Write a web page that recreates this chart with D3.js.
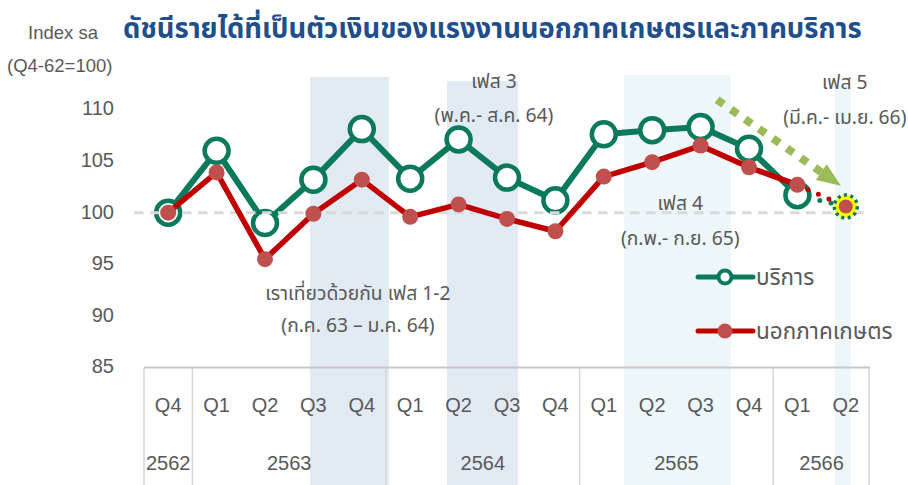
<!DOCTYPE html>
<meta charset="utf-8">
<style>
  body {
    margin: 0;
    background-color: #ffffff;
  }

  text {
    font-family: "Liberation Sans", Arial, sans-serif;
    fill: #595959;
  }

  .thai {
    font-family: "Noto Sans Thai", "Noto Sans Thai Looped", "Noto Sans", sans-serif;
  }

  .axis path,
  .axis line {
    display: none;
  }
</style>
<svg width="908" height="485"></svg>
<script src="https://d3js.org/d3.v7.min.js"></script>

<script>
  // data
  var quarters = ["Q4", "Q1", "Q2", "Q3", "Q4", "Q1", "Q2", "Q3", "Q4", "Q1", "Q2", "Q3", "Q4", "Q1", "Q2"];
  var years = ["2562", "2563", "2563", "2563", "2563", "2564", "2564", "2564", "2564",
    "2565", "2565", "2565", "2565", "2566", "2566"];
  var services = [100, 106.0, 99.0, 103.2, 108.1, 103.3, 107.1, 103.4, 101.2, 107.6, 108.0, 108.3, 106.2, 101.7, 100.6];
  var nonAgri = [100, 103.9, 95.5, 99.9, 103.2, 99.6, 100.8, 99.4, 98.2, 103.5, 104.9, 106.5, 104.4, 102.7, 100.6];
  var yTicks = [85, 90, 95, 100, 105, 110];
  var baseValue = 100;

  // phase shading, in quarter-index units
  var phaseStart = [2.93, 5.76, 9.42, 13.78];
  var phaseEnd = [4.56, 7.23, 11.63, 14.11];

  var titleText = "ดัชนีรายได้ที่เป็นตัวเงินของแรงงานนอกภาคเกษตรและภาคบริการ";
  var seriesNames = ["บริการ", "นอกภาคเกษตร"];

  var svg = d3.select("svg");
  var n = quarters.length;

  var x = d3.scaleBand().domain(d3.range(n)).range([144, 870]);
  var xi = d3.scaleLinear().domain([0, n - 1])
    .range([x(0) + x.bandwidth() / 2, x(n - 1) + x.bandwidth() / 2]);
  var y = d3.scaleLinear().domain([85, 110]).range([367.5, 109.5]);

  var green = "#0b7a5c", red = "#c00000", redDot = "#c0504d";

  // phase bands
  var bandTop = [77, 81, 75, 86];
  var bandFill = ["#e2eaf4", "#e2eaf4", "#edf6f9", "#edf6f9"];
  svg.append("g").selectAll("rect")
    .data(phaseStart)
    .enter().append("rect")
    .attr("x", function (d) { return xi(d); })
    .attr("y", function (d, i) { return bandTop[i]; })
    .attr("width", function (d, i) { return xi(phaseEnd[i]) - xi(d); })
    .attr("height", function (d, i) { return 485 - bandTop[i]; })
    .attr("fill", function (d, i) { return bandFill[i]; });

  // category table under the plot
  var table = svg.append("g");
  var groups = d3.groups(d3.range(n), function (i) { return years[i]; });
  var bounds = [0].concat(groups.map(function (g) { return g[1][g[1].length - 1] + 1; }));
  table.selectAll("line.v")
    .data(bounds)
    .enter().append("line")
    .attr("x1", function (d) { return d < n ? x(d) : x.range()[1] - 1; })
    .attr("x2", function (d) { return d < n ? x(d) : x.range()[1] - 1; })
    .attr("y1", y(85))
    .attr("y2", 485)
    .attr("stroke", "#d6d6d6")
    .attr("stroke-width", 1.5);
  table.append("line")
    .attr("x1", x.range()[0])
    .attr("x2", x.range()[1])
    .attr("y1", y(85))
    .attr("y2", y(85))
    .attr("stroke", "#c8c8c8")
    .attr("stroke-width", 2);
  table.selectAll("text.q")
    .data(quarters)
    .enter().append("text")
    .attr("x", function (d, i) { return xi(i); })
    .attr("y", 405)
    .attr("dy", "0.35em")
    .attr("text-anchor", "middle")
    .style("font-size", "20px")
    .text(function (d) { return d; });
  table.selectAll("text.yr")
    .data(groups)
    .enter().append("text")
    .attr("x", function (g) { return (xi(g[1][0]) + xi(g[1][g[1].length - 1])) / 2; })
    .attr("y", 463)
    .attr("dy", "0.35em")
    .attr("text-anchor", "middle")
    .style("font-size", "20px")
    .text(function (g) { return g[0]; });

  // y axis labels
  svg.append("g")
    .attr("class", "axis")
    .attr("transform", "translate(118,-1)")
    .call(d3.axisLeft(y).tickValues(yTicks).tickSize(0).tickPadding(4))
    .selectAll("text")
    .style("font-size", "20px")
    .style("font-family", "'Liberation Sans', Arial, sans-serif")
    .attr("fill", "#595959");

  svg.append("text")
    .attr("x", 28).attr("y", 33).attr("dy", "0.35em")
    .style("font-size", "18.5px")
    .text("Index sa");
  svg.append("text")
    .attr("x", 7).attr("y", 66).attr("dy", "0.35em")
    .style("font-size", "18.5px")
    .text("(Q4-62=100)");

  // series
  var line = d3.line()
    .x(function (d) { return xi(d[0]); })
    .y(function (d) { return y(d[1]); });

  function pairs(vals, from, to) {
    return d3.range(from, to + 1).map(function (i) { return [i, vals[i]]; });
  }

  function drawSeries(vals, color, width) {
    var g = svg.append("g");
    g.append("path")
      .attr("d", line(pairs(vals, 0, n - 2)))
      .attr("fill", "none")
      .attr("stroke", color)
      .attr("stroke-width", width)
      .attr("stroke-linejoin", "round");
    g.append("path")
      .attr("d", line(pairs(vals, n - 2, n - 1)))
      .attr("fill", "none")
      .attr("stroke", color)
      .attr("stroke-width", 5)
      .attr("stroke-linecap", "round")
      .attr("stroke-dasharray", "0,11.5");
    return g;
  }

  var gS = drawSeries(services, green, 6);
  gS.selectAll("circle")
    .data(services.slice(0, n - 1))
    .enter().append("circle")
    .attr("cx", function (d, i) { return xi(i); })
    .attr("cy", function (d) { return y(d); })
    .attr("r", 12)
    .attr("fill", "#ffffff")
    .attr("stroke", green)
    .attr("stroke-width", 4.5);

  // base line at 100 (above services, below non-agri)
  svg.append("line")
    .attr("x1", 134)
    .attr("x2", 870)
    .attr("y1", y(baseValue))
    .attr("y2", y(baseValue))
    .attr("stroke", "#d9d9d9")
    .attr("stroke-width", 3)
    .attr("stroke-dasharray", "9.5,6.5");

  var gN = drawSeries(nonAgri, red, 5.5);
  gN.selectAll("circle")
    .data(nonAgri.slice(0, n - 1))
    .enter().append("circle")
    .attr("cx", function (d, i) { return xi(i); })
    .attr("cy", function (d) { return y(d); })
    .attr("r", 8)
    .attr("fill", redDot);

  // latest quarter highlight
  svg.append("circle")
    .attr("cx", xi(n - 1))
    .attr("cy", y(services[n - 1]))
    .attr("r", 11.5)
    .attr("fill", "#ffff00")
    .attr("stroke", green)
    .attr("stroke-width", 3.5)
    .attr("stroke-dasharray", "3,3.5");
  svg.append("circle")
    .attr("cx", xi(n - 1))
    .attr("cy", y(nonAgri[n - 1]))
    .attr("r", 7)
    .attr("fill", redDot);

  // trend arrow
  var a0 = [xi(11.34), y(110.95)], a1 = [xi(13.9), y(102.6)];
  var dx = a1[0] - a0[0], dy = a1[1] - a0[1], len = Math.sqrt(dx * dx + dy * dy);
  var ux = dx / len, uy = dy / len, head = 24;
  var base = [a1[0] - ux * head, a1[1] - uy * head];
  svg.append("line")
    .attr("x1", a0[0]).attr("y1", a0[1])
    .attr("x2", base[0]).attr("y2", base[1])
    .attr("stroke", "#9bbb59")
    .attr("stroke-width", 8)
    .attr("stroke-dasharray", "8,9");
  svg.append("path")
    .attr("d", "M" + a1[0] + "," + a1[1] +
      "L" + (base[0] - uy * 9.5) + "," + (base[1] + ux * 9.5) +
      "L" + (base[0] + uy * 9.5) + "," + (base[1] - ux * 9.5) + "Z")
    .attr("fill", "#9bbb59");

  // phase notes
  var notes = [
    { i: 3.92, y: 293, t: "เราเที่ยวด้วยกัน เฟส 1-2" },
    { i: 3.92, y: 325, t: "(ก.ค. 63 – ม.ค. 64)" },
    { i: 6.73, y: 81, t: "เฟส 3" },
    { i: 6.73, y: 115, t: "(พ.ค.- ส.ค. 64)" },
    { i: 10.58, y: 203, t: "เฟส 4" },
    { i: 10.58, y: 238, t: "(ก.พ.- ก.ย. 65)" },
    { i: 13.98, y: 82, t: "เฟส 5" },
    { i: 13.98, y: 117, t: "(มี.ค.- เม.ย. 66)" }
  ];
  svg.selectAll("text.note")
    .data(notes)
    .enter().append("text")
    .attr("class", "thai")
    .attr("x", function (d) { return xi(d.i); })
    .attr("y", function (d) { return d.y; })
    .attr("dy", "0.35em")
    .attr("text-anchor", "middle")
    .style("font-size", "19.3px")
    .text(function (d) { return d.t; });

  // legend
  var legendY = [277, 331];
  var leg = svg.append("g").selectAll("g")
    .data(seriesNames)
    .enter().append("g")
    .attr("transform", function (d, i) { return "translate(0," + legendY[i] + ")"; });
  leg.append("line")
    .attr("x1", 698).attr("x2", 753)
    .attr("stroke", function (d, i) { return i ? red : green; })
    .attr("stroke-width", 5)
    .attr("stroke-linecap", "round");
  leg.append("circle")
    .attr("cx", 725)
    .attr("r", function (d, i) { return i ? 7.5 : 6.5; })
    .attr("fill", function (d, i) { return i ? redDot : "#ffffff"; })
    .attr("stroke", function (d, i) { return i ? "none" : green; })
    .attr("stroke-width", 4);
  leg.append("text")
    .attr("class", "thai")
    .attr("x", 756)
    .attr("dy", "0.35em")
    .style("font-size", "22.5px")
    .text(function (d) { return d; });

  // title, fitted to its width in the picture
  var title = svg.append("text")
    .attr("class", "thai")
    .attr("x", 123)
    .attr("y", 38)
    .style("font-size", "28px")
    .style("font-weight", "bold")
    .style("fill", "#1f4e8c")
    .text(titleText);
  var tw = title.node().getComputedTextLength();
  title.style("font-size", (28 * 739 / tw) + "px");
</script>
